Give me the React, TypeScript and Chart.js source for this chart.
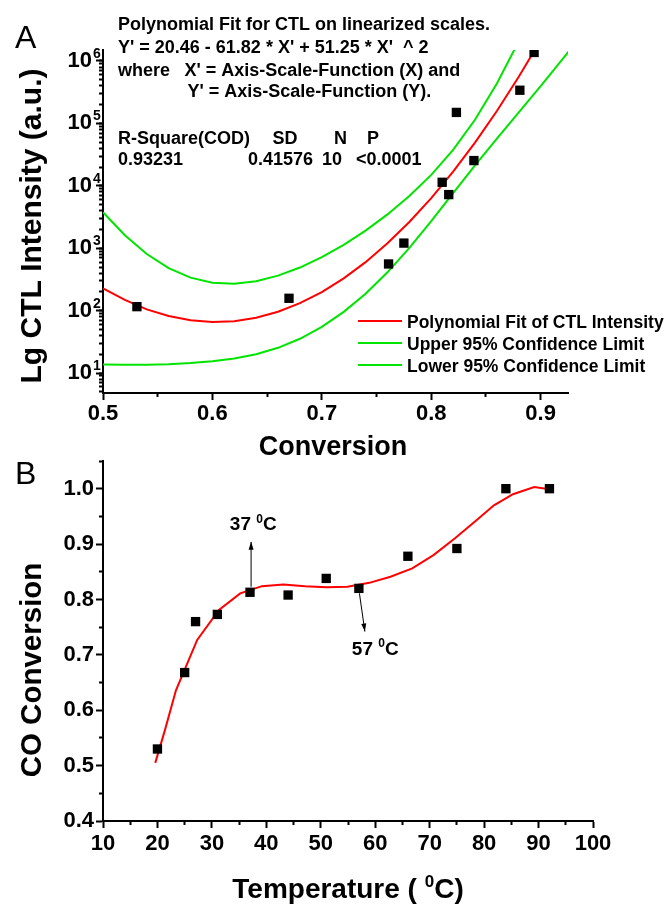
import { useEffect, useRef } from "react";
import { Chart, registerables } from "chart.js";

Chart.register(...registerables);

const FONT = "'Liberation Sans', Arial, Helvetica, sans-serif";

// ---------- Panel A : CTL intensity vs conversion ----------
const ctlConversion = [0.531, 0.67, 0.761, 0.775, 0.81, 0.816, 0.823, 0.839, 0.881, 0.894];
const ctlIntensity = [116, 158, 560, 1210, 11400, 7240, 150000, 25400, 340000, 1370000];

const fitConversion = [0.5, 0.52, 0.54, 0.56, 0.58, 0.6, 0.62, 0.64, 0.66, 0.68, 0.7, 0.72, 0.74, 0.76, 0.78, 0.8, 0.82, 0.84, 0.86, 0.88, 0.9];
const fitIntensity = [228, 149, 105, 82, 70, 66, 68, 77, 96, 132, 199, 329, 599, 1199, 2635, 6368, 16910, 49330, 158200, 557800, 2160000];

const upperConversion = [0.5, 0.52, 0.54, 0.56, 0.58, 0.6, 0.62, 0.64, 0.66, 0.68, 0.7, 0.72, 0.74, 0.76, 0.78, 0.8, 0.82, 0.84, 0.86, 0.88];
const upperIntensity = [3776, 1620, 810, 480, 338, 280, 270, 296, 364, 491, 719, 1133, 1918, 3486, 6870, 14970, 37580, 114500, 437500, 2070000];

const lowerConversion = [0.5, 0.52, 0.54, 0.56, 0.58, 0.6, 0.62, 0.64, 0.66, 0.68, 0.7, 0.72, 0.74, 0.76, 0.78, 0.8, 0.82, 0.84, 0.86, 0.88, 0.9, 0.92, 0.93];
const lowerIntensity = [13.7, 13.6, 13.6, 13.9, 14.5, 15.5, 17.1, 20.1, 25.4, 35.5, 55, 95.7, 187, 412, 1011, 2710, 7610, 21270, 57240, 150500, 396600, 1070000, 1770000];

const xTicksA = [0.5, 0.6, 0.7, 0.8, 0.9];
const xMinorTicksA = [0.55, 0.65, 0.75, 0.85];
const yTicksA = [10, 100, 1000, 10000, 100000, 1000000];
const yExponentsA = ["1", "2", "3", "4", "5", "6"];

const legendLabelsA = ["Polynomial Fit of CTL Intensity", "Upper 95% Confidence Limit", "Lower 95% Confidence Limit"];

// ---------- Panel B : CO conversion vs temperature ----------
const temperature = [20, 25, 27, 31, 37, 44, 51, 57, 66, 75, 84, 92];
const coConversion = [0.53, 0.668, 0.76, 0.773, 0.813, 0.808, 0.838, 0.82, 0.878, 0.892, 1.0, 1.0];

const curveTemperature = [19.6, 21.4, 23.4, 27.3, 31.3, 35.2, 39.2, 43.1, 47.1, 51.0, 54.9, 58.9, 62.8, 66.8, 70.7, 74.6, 78.6, 81.8, 85.3, 89.2, 92.0];
const curveConversion = [0.505, 0.565, 0.636, 0.727, 0.781, 0.811, 0.824, 0.827, 0.824, 0.822, 0.823, 0.83, 0.841, 0.856, 0.88, 0.91, 0.943, 0.97, 0.99, 1.003, 0.999];

const xTicksB = [10, 20, 30, 40, 50, 60, 70, 80, 90, 100];
const xMinorTicksB = [15, 25, 35, 45, 55, 65, 75, 85, 95];
const yTicksB = [0.4, 0.5, 0.6, 0.7, 0.8, 0.9, 1.0];
const yMinorTicksB = [0.45, 0.55, 0.65, 0.75, 0.85, 0.95, 1.05];

const GREEN = "#00e400";
const RED = "#ff0000";

type Seg = { t: string; sup?: boolean };

function drawRich(
  ctx: CanvasRenderingContext2D,
  segs: Seg[],
  x: number,
  y: number,
  size: number,
  align: "left" | "center" | "right",
  weight = "bold"
) {
  const supSize = Math.round(size * 0.62);
  const widths = segs.map((s) => {
    ctx.font = `${weight} ${s.sup ? supSize : size}px ${FONT}`;
    return ctx.measureText(s.t).width;
  });
  const total = widths.reduce((a, b) => a + b, 0);
  let cx = align === "left" ? x : align === "center" ? x - total / 2 : x - total;
  ctx.textAlign = "left";
  ctx.textBaseline = "alphabetic";
  ctx.fillStyle = "#000";
  segs.forEach((s, i) => {
    ctx.font = `${weight} ${s.sup ? supSize : size}px ${FONT}`;
    ctx.fillText(s.t, cx, s.sup ? y - size * 0.4 : y);
    cx += widths[i];
  });
}

function drawArrow(ctx: CanvasRenderingContext2D, x1: number, y1: number, x2: number, y2: number) {
  ctx.save();
  ctx.strokeStyle = "#000";
  ctx.fillStyle = "#000";
  ctx.lineWidth = 1;
  ctx.beginPath();
  ctx.moveTo(x1, y1);
  ctx.lineTo(x2, y2);
  ctx.stroke();
  const a = Math.atan2(y2 - y1, x2 - x1);
  const len = 8;
  const half = 2.5;
  const c = Math.cos(a);
  const s = Math.sin(a);
  ctx.beginPath();
  ctx.moveTo(x2, y2);
  ctx.lineTo(x2 - len * c + half * s, y2 - len * s - half * c);
  ctx.lineTo(x2 - len * c - half * s, y2 - len * s + half * c);
  ctx.closePath();
  ctx.fill();
  ctx.restore();
}

const tickFont = { family: FONT, size: 22, weight: "bold" as const };

function majorGrid() {
  return { display: true, drawOnChartArea: false, drawTicks: true, tickLength: 7, tickWidth: 2, tickColor: "#000" };
}
function minorGrid() {
  return { display: true, drawOnChartArea: false, drawTicks: true, tickLength: 4, tickWidth: 2, tickColor: "#000" };
}

const panelAPlugin = {
  id: "panelA",
  afterDraw(chart: any) {
    const ctx: CanvasRenderingContext2D = chart.ctx;
    const ys = chart.scales.y;
    ctx.save();
    // panel letter
    ctx.fillStyle = "#000";
    ctx.font = `normal 32px ${FONT}`;
    ctx.textAlign = "left";
    ctx.textBaseline = "alphabetic";
    ctx.fillText("A", 15, 48);

    // log tick labels 10^n
    yTicksA.forEach((v, i) => {
      const py = ys.getPixelForValue(v);
      drawRich(ctx, [{ t: "10" }], 92, py + 6, 22, "right");
      ctx.font = `bold 14px ${FONT}`;
      ctx.fillText(yExponentsA[i], 93, py - 3);
    });

    // axis titles
    drawRich(ctx, [{ t: "Conversion" }], 333, 455, 27, "center");
    ctx.save();
    ctx.translate(41, 226);
    ctx.rotate(-Math.PI / 2);
    drawRich(ctx, [{ t: "Lg CTL Intensity (a.u.)" }], 0, 0, 30, "center");
    ctx.restore();

    // fit report text
    const f = 18;
    drawRich(ctx, [{ t: "Polynomial Fit for CTL on linearized scales." }], 118, 29.5, f, "left");
    drawRich(ctx, [{ t: "Y' = 20.46 - 61.82 * X' + 51.25 * X'  ^ 2" }], 118, 52.5, f, "left");
    drawRich(ctx, [{ t: "where" }], 118, 75.5, f, "left");
    drawRich(ctx, [{ t: "X' = Axis-Scale-Function (X) and" }], 184.5, 75.5, f, "left");
    drawRich(ctx, [{ t: "Y' = Axis-Scale-Function (Y)." }], 187.5, 96.5, f, "left");
    drawRich(ctx, [{ t: "R-Square(COD)" }], 118, 143.5, f, "left");
    drawRich(ctx, [{ t: "SD" }], 272.5, 143.5, f, "left");
    drawRich(ctx, [{ t: "N" }], 334, 143.5, f, "left");
    drawRich(ctx, [{ t: "P" }], 367, 143.5, f, "left");
    drawRich(ctx, [{ t: "0.93231" }], 118, 164.5, f, "left");
    drawRich(ctx, [{ t: "0.41576" }], 248, 164.5, f, "left");
    drawRich(ctx, [{ t: "10" }], 322, 164.5, f, "left");
    drawRich(ctx, [{ t: "<0.0001" }], 356, 164.5, f, "left");

    // legend
    const rows = [321, 343, 365];
    const colors = [RED, GREEN, GREEN];
    rows.forEach((ry, i) => {
      ctx.strokeStyle = colors[i];
      ctx.lineWidth = 2;
      ctx.beginPath();
      ctx.moveTo(358, ry);
      ctx.lineTo(402, ry);
      ctx.stroke();
      drawRich(ctx, [{ t: legendLabelsA[i] }], 407, ry + 6.5, 17.5, "left");
    });
    ctx.restore();
  },
};

const panelBPlugin = {
  id: "panelB",
  afterDraw(chart: any) {
    const ctx: CanvasRenderingContext2D = chart.ctx;
    const xs = chart.scales.x;
    const ys = chart.scales.y;
    ctx.save();
    ctx.fillStyle = "#000";
    ctx.font = `normal 32px ${FONT}`;
    ctx.textAlign = "left";
    ctx.textBaseline = "alphabetic";
    ctx.fillText("B", 15, 44);

    drawRich(ctx, [{ t: "Temperature ( " }, { t: "0", sup: true }, { t: "C)" }], 348, 458, 28, "center");
    ctx.save();
    ctx.translate(41, 230);
    ctx.rotate(-Math.PI / 2);
    drawRich(ctx, [{ t: "CO Conversion" }], 0, 0, 29.5, "center");
    ctx.restore();

    // annotations
    drawArrow(ctx, xs.getPixelForValue(37.2), ys.getPixelForValue(0.823), xs.getPixelForValue(37.2), ys.getPixelForValue(0.904));
    drawArrow(ctx, xs.getPixelForValue(57.1), ys.getPixelForValue(0.811), xs.getPixelForValue(58.1), ys.getPixelForValue(0.742));
    drawRich(ctx, [{ t: "37 " }, { t: "0", sup: true }, { t: "C" }], xs.getPixelForValue(33.3), ys.getPixelForValue(0.925), 19, "left");
    drawRich(ctx, [{ t: "57 " }, { t: "0", sup: true }, { t: "C" }], xs.getPixelForValue(55.7), ys.getPixelForValue(0.7), 19, "left");
    ctx.restore();
  },
};

export default function App() {
  const refA = useRef<HTMLCanvasElement>(null);
  const refB = useRef<HTMLCanvasElement>(null);

  useEffect(() => {
    const chartA = new Chart(refA.current as HTMLCanvasElement, {
      type: "scatter",
      data: {
        datasets: [
          {
            label: "CTL Intensity",
            data: ctlConversion.map((x, i) => ({ x, y: ctlIntensity[i] })),
            showLine: false,
            pointStyle: "rect",
            pointRadius: 6.6,
            backgroundColor: "#000",
            borderColor: "#000",
            borderWidth: 0,
          },
          {
            label: legendLabelsA[0],
            data: fitConversion.map((x, i) => ({ x, y: fitIntensity[i] })),
            showLine: true,
            borderColor: RED,
            borderWidth: 2,
            pointRadius: 0,
            tension: 0,
          },
          {
            label: legendLabelsA[1],
            data: upperConversion.map((x, i) => ({ x, y: upperIntensity[i] })),
            showLine: true,
            borderColor: GREEN,
            borderWidth: 2,
            pointRadius: 0,
            tension: 0,
          },
          {
            label: legendLabelsA[2],
            data: lowerConversion.map((x, i) => ({ x, y: lowerIntensity[i] })),
            showLine: true,
            borderColor: GREEN,
            borderWidth: 2,
            pointRadius: 0,
            tension: 0,
          },
        ],
      },
      options: {
        animation: false,
        responsive: false,
        devicePixelRatio: 1,
        events: [],
        layout: { padding: { left: 0, top: 50, right: 102, bottom: 0 } },
        plugins: { legend: { display: false }, tooltip: { enabled: false } },
        scales: {
          x: {
            type: "linear",
            axis: "x",
            position: "bottom",
            min: 0.5,
            max: 0.925,
            afterBuildTicks: (s: any) => {
              s.ticks = xTicksA.map((v) => ({ value: v }));
            },
            afterFit: (s: any) => {
              s.height = 77;
            },
            border: { display: true, color: "#000", width: 2 },
            grid: majorGrid(),
            ticks: {
              font: tickFont,
              color: "#000",
              padding: 1,
              maxRotation: 0,
              autoSkip: false,
              callback: (v: any) => Number(v).toFixed(1),
            },
          },
          xMinor: {
            type: "linear",
            axis: "x",
            position: { y: 4.8 },
            min: 0.5,
            max: 0.925,
            afterBuildTicks: (s: any) => {
              s.ticks = xMinorTicksA.map((v) => ({ value: v }));
            },
            border: { display: false },
            grid: minorGrid(),
            ticks: { display: false },
          },
          y: {
            type: "logarithmic",
            axis: "y",
            position: "left",
            min: 4.8,
            max: 1.5e6,
            afterBuildTicks: (s: any) => {
              s.ticks = yTicksA.map((v) => ({ value: v }));
            },
            afterFit: (s: any) => {
              s.width = 103;
            },
            border: { display: true, color: "#000", width: 2 },
            grid: majorGrid(),
            ticks: { display: false },
          },
          yMinor: {
            type: "logarithmic",
            axis: "y",
            position: { x: 0.5 },
            min: 4.8,
            max: 1.5e6,
            afterBuildTicks: (s: any) => {
              const t: { value: number }[] = [];
              for (let d = 1; d <= 1e6; d *= 10) {
                for (let m = 1; m <= 9; m++) {
                  const v = m * d;
                  if (v >= 4.8 && v <= 1.5e6) t.push({ value: v });
                }
              }
              s.ticks = t;
            },
            border: { display: false },
            grid: minorGrid(),
            ticks: { display: false },
          },
        },
      } as any,
      plugins: [panelAPlugin],
    });

    const chartB = new Chart(refB.current as HTMLCanvasElement, {
      type: "scatter",
      data: {
        datasets: [
          {
            label: "CO Conversion",
            data: temperature.map((x, i) => ({ x, y: coConversion[i] })),
            showLine: false,
            pointStyle: "rect",
            pointRadius: 6.6,
            backgroundColor: "#000",
            borderColor: "#000",
            borderWidth: 0,
          },
          {
            label: "Fit",
            data: curveTemperature.map((x, i) => ({ x, y: curveConversion[i] })),
            showLine: true,
            borderColor: RED,
            borderWidth: 2,
            pointRadius: 0,
            tension: 0,
          },
        ],
      },
      options: {
        animation: false,
        responsive: false,
        devicePixelRatio: 1,
        events: [],
        layout: { padding: { left: 0, top: 21, right: 77, bottom: 0 } },
        plugins: { legend: { display: false }, tooltip: { enabled: false } },
        scales: {
          x: {
            type: "linear",
            axis: "x",
            position: "bottom",
            min: 10,
            max: 100,
            afterBuildTicks: (s: any) => {
              s.ticks = xTicksB.map((v) => ({ value: v }));
            },
            afterFit: (s: any) => {
              s.height = 86;
            },
            border: { display: true, color: "#000", width: 2 },
            grid: majorGrid(),
            ticks: {
              font: tickFont,
              color: "#000",
              padding: 3,
              maxRotation: 0,
              autoSkip: false,
              callback: (v: any) => String(v),
            },
          },
          xMinor: {
            type: "linear",
            axis: "x",
            position: { y: 0.4 },
            min: 10,
            max: 100,
            afterBuildTicks: (s: any) => {
              s.ticks = xMinorTicksB.map((v) => ({ value: v }));
            },
            border: { display: false },
            grid: minorGrid(),
            ticks: { display: false },
          },
          y: {
            type: "linear",
            axis: "y",
            position: "left",
            min: 0.4,
            max: 1.05,
            afterBuildTicks: (s: any) => {
              s.ticks = yTicksB.map((v) => ({ value: v }));
            },
            afterFit: (s: any) => {
              s.width = 103;
            },
            border: { display: true, color: "#000", width: 2 },
            grid: majorGrid(),
            ticks: {
              font: tickFont,
              color: "#000",
              padding: 2,
              callback: (v: any) => Number(v).toFixed(1),
            },
          },
          yMinor: {
            type: "linear",
            axis: "y",
            position: { x: 10 },
            min: 0.4,
            max: 1.05,
            afterBuildTicks: (s: any) => {
              s.ticks = yMinorTicksB.map((v) => ({ value: v }));
            },
            border: { display: false },
            grid: minorGrid(),
            ticks: { display: false },
          },
        },
      } as any,
      plugins: [panelBPlugin],
    });

    return () => {
      chartA.destroy();
      chartB.destroy();
    };
  }, []);

  return (
    <div style={{ position: "absolute", left: 0, top: 0, width: 670, height: 907, background: "#fff" }}>
      <canvas
        ref={refA}
        width={670}
        height={470}
        style={{ position: "absolute", left: 0, top: 0, width: 670, height: 470 }}
      />
      <canvas
        ref={refB}
        width={670}
        height={467}
        style={{ position: "absolute", left: 0, top: 440, width: 670, height: 467 }}
      />
    </div>
  );
}
